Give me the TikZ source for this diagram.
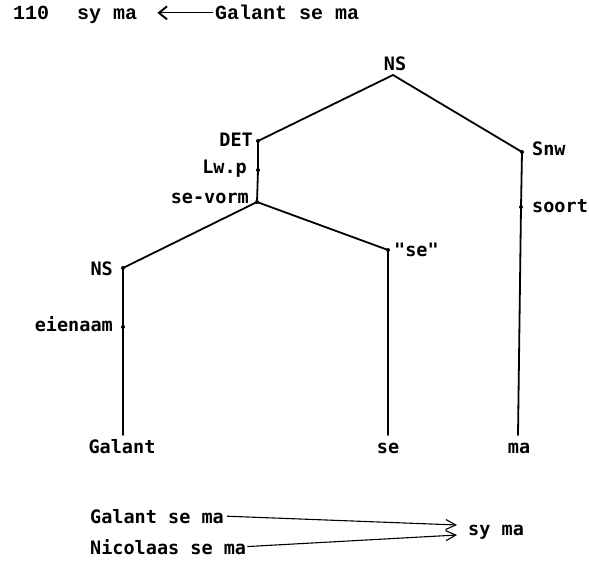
\documentclass[tikz,border=0pt]{standalone}
\usepackage{fontspec}
\newfontfamily\treefont{DejaVu Sans Mono Bold}
\newfontfamily\topfont{Liberation Mono Bold}
\usetikzlibrary{arrows.meta}
\begin{document}
\begin{tikzpicture}[x=1pt,y=-1pt,
  tl/.style={inner sep=0pt,font=\treefont\fontsize{18.5}{20}\selectfont},
  hl/.style={inner sep=0pt,font=\topfont\fontsize{20}{22}\selectfont},
  edge/.style={line width=1.8pt,line cap=round,line join=round},
  pt/.style={fill=black},
  bar/.style={line width=1.1pt,-{Straight Barb[length=10pt,width=10pt,line width=1.1pt]}}]
\useasboundingbox (0,0) rectangle (589,564);
% header line
\node[hl,anchor=base west] (h110) at (13,20) {110};
\node[hl,anchor=base west] (hsy) at (77,20) {sy ma};
\node[hl,anchor=base west] (hgal) at (215,20) {Galant se ma};
\draw[line width=1pt,-{Straight Barb[length=8pt,width=13pt,line width=2pt]},shorten <=2pt,shorten >=20pt]
  (hgal.west) -- (hgal.west -| hsy.east);
% tree points
\coordinate (ns0) at (393,75);
\coordinate (det) at (258,141);
\coordinate (lwp) at (258,170);
\coordinate (sev) at (257,202);
\coordinate (snw) at (522,152);
\coordinate (soort) at (521,207);
\coordinate (ns1) at (123,268);
\coordinate (eien) at (123,327);
\coordinate (quse) at (388,250);
\coordinate (galE) at (123,435);
\coordinate (seE) at (388,435);
\coordinate (maE) at (518,435);
% edges
\draw[edge] (det) -- (ns0) -- (snw) -- (soort) -- (maE);
\draw[edge] (det) -- (lwp) -- (sev);
\draw[edge] (ns1) -- (sev) -- (quse) -- (seE);
\draw[edge] (ns1) -- (eien) -- (galE);
\foreach \p in {det,lwp,sev,snw,soort,ns1,eien,quse}
  \fill[pt] (\p) circle (2pt);
% labels
\node[tl,anchor=base] (lns0) at (395,71) {NS};
\node[tl,anchor=base east] (ldet) at (253,146.5) {DET};
\node[tl,anchor=base east] (llwp) at (247,174) {Lw.p};
\node[tl,anchor=base east] (lsev) at (249,203.5) {se-vorm};
\node[tl,anchor=base west] (lsnw) at (532,155.5) {Snw};
\node[tl,anchor=base west] (lsoort) at (532,213) {soort};
\node[tl,anchor=base east] (lns1) at (113,276) {NS};
\node[tl,anchor=base east] (leien) at (113,331) {eienaam};
\node[tl,anchor=base west] (lquse) at (394,256) {"se"};
\node[tl,anchor=base] (lgal) at (122,453) {Galant};
\node[tl,anchor=base] (lse) at (388,453) {se};
\node[tl,anchor=base] (lma) at (519,453) {ma};
% bottom
\node[tl,anchor=base west] (bgal) at (90,523) {Galant se ma};
\node[tl,anchor=base west] (bnic) at (90,554) {Nicolaas se ma};
\node[tl,anchor=base west] (bsy) at (468,535) {sy ma};
\coordinate (a1) at (457,525);
\coordinate (a2) at (457,535);
\draw[bar,shorten <=3pt] (bgal.east) -- (a1);
\draw[bar,shorten <=1pt] (bnic.east) -- (a2);
\end{tikzpicture}
\end{document}
